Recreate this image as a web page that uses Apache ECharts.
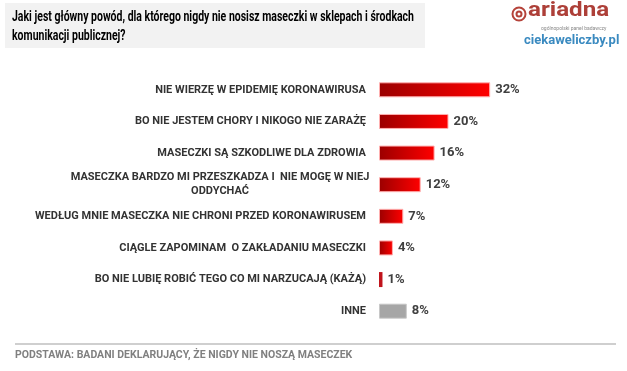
<!DOCTYPE html>
<html><head><meta charset="utf-8">
<script src="https://cdn.jsdelivr.net/npm/echarts@6/dist/echarts.min.js"></script>
<style>html,body{margin:0;padding:0;background:#fff}#c{width:627px;height:371px}</style>
</head><body><div id="c"></div>
<script>
const categories = [
  "NIE WIERZĘ W EPIDEMIĘ KORONAWIRUSA",
  "BO NIE JESTEM CHORY I NIKOGO NIE ZARAŻĘ",
  "MASECZKI SĄ SZKODLIWE DLA ZDROWIA",
  "MASECZKA BARDZO MI PRZESZKADZA I  NIE MOGĘ W NIEJ\nODDYCHAĆ",
  "WEDŁUG MNIE MASECZKA NIE CHRONI PRZED KORONAWIRUSEM",
  "CIĄGLE ZAPOMINAM  O ZAKŁADANIU MASECZKI",
  "BO NIE LUBIĘ ROBIĆ TEGO CO MI NARZUCAJĄ (KAŻĄ)",
  "INNE"
];
const values = [32, 20, 16, 12, 7, 4, 1, 8];
const titleText = "Jaki jest główny powód, dla którego nigdy nie nosisz maseczki w sklepach i środkach\nkomunikacji publicznej?";
const footText = "PODSTAWA: BADANI DEKLARUJĄCY, ŻE NIGDY NIE NOSZĄ MASECZEK";

const FONT = "Roboto, sans-serif";
const redGrad = new echarts.graphic.LinearGradient(0, 0, 1, 0, [
  {offset: 0, color: '#9b0000'}, {offset: 1, color: '#ff0000'}
]);
const chart = echarts.init(document.getElementById('c'), null, {renderer: 'canvas'});
chart.setOption({
  animation: false,
  backgroundColor: '#fff',
  grid: {left: 379, right: 109, top: 74, bottom: 44},
  xAxis: {type: 'value', min: 0, max: 40, show: false},
  yAxis: {
    type: 'category', inverse: true, data: categories,
    axisLine: {show: false}, axisTick: {show: false},
    axisLabel: {
      margin: 13, color: '#333', fontFamily: FONT, fontSize: 11, fontWeight: 'bold',
      formatter: function (v) {
        return v.indexOf('\n') >= 0 ? '{c|' + v + '}' : v;
      },
      rich: {c: {width: 292, align: 'center', fontFamily: FONT, fontSize: 11, fontWeight: 'bold', color: '#333', lineHeight: 14}}
    }
  },
  series: [{
    type: 'bar', barWidth: 15,
    data: values.map((v, i) => ({
      value: v,
      itemStyle: i === categories.length - 1
        ? {color: '#a6a6a6', borderColor: '#c8c8c8', borderWidth: 1}
        : (v <= 1 ? {color: '#c0141c', borderWidth: 0}
                  : {color: redGrad, borderColor: '#ffb0b0', borderWidth: 1})
    })),
    label: {show: true, position: 'right', distance: 5, formatter: '{c}%',
      color: '#404040', fontFamily: FONT, fontSize: 13, fontWeight: 'bold'}
  }],
  graphic: [
    {type: 'rect', shape: {x: 5, y: 3, width: 420, height: 45}, style: {fill: '#f2f2f2'}, z: -1},
    {type: 'text', x: 12, y: 8, scaleX: 0.7, style: {text: titleText, x: 0, y: 0, verticalAlign: 'top', font: 'bold 15px ' + FONT, fill: '#000', lineHeight: 19}},
    {type: 'line', shape: {x1: 15, y1: 344, x2: 616, y2: 344}, style: {stroke: '#bfbfbf', lineWidth: 1.5}},
    {type: 'text', x: 15, y: 350, style: {text: footText, x: 0, y: 0, verticalAlign: 'top', font: 'bold 10.5px ' + FONT, fill: '#808080'}},
    {type: 'circle', shape: {cx: 519, cy: 14, r: 6.5}, style: {fill: 'none', stroke: '#b5433a', lineWidth: 2}},
    {type: 'circle', shape: {cx: 519, cy: 14, r: 2.5}, style: {fill: 'none', stroke: '#b5433a', lineWidth: 2}},
    {type: 'text', x: 528, y: 0, scaleX: 1.15, style: {text: 'ariadna', x: 0, y: 0, verticalAlign: 'top', font: 'bold 21px ' + FONT, fill: '#ad3f38'}},
    {type: 'text', x: 541, y: 26, style: {text: 'ogólnopolski panel badawczy', x: 0, y: 0, verticalAlign: 'top', font: '5px ' + FONT, fill: '#888'}},
    {type: 'text', x: 524, y: 34, style: {text: 'ciekaweliczby.pl', x: 0, y: 0, verticalAlign: 'top', font: 'bold 13px ' + FONT, fill: '#3a8ac0'}}
  ]
});
</script></body></html>
